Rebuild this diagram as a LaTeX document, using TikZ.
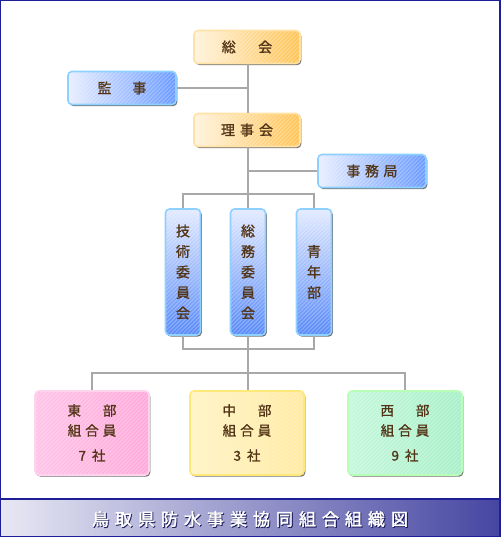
\documentclass[tikz,border=0pt]{standalone}
\usepackage{fontspec}
\newfontfamily\jp[FakeBold=1.2]{Noto Sans CJK JP}
\newfontfamily\jpt[FakeBold=2.2]{Noto Sans CJK JP}
\newfontfamily\jpts[FakeBold=5]{Noto Sans CJK JP}
\usetikzlibrary{shadows}
\definecolor{txt}{HTML}{523416}
\definecolor{conncol}{HTML}{A8A8A8}
\definecolor{oL}{HTML}{FFF3DC}
\definecolor{oR}{HTML}{FFC456}
\definecolor{oB}{HTML}{FFE2A6}
\definecolor{bL}{HTML}{E8EEFF}
\definecolor{bR}{HTML}{6A9AFF}
\definecolor{bB}{HTML}{8ED0FF}
\definecolor{vT}{HTML}{E2EAFF}
\definecolor{vB}{HTML}{588AF8}
\definecolor{pL}{HTML}{FFC4E8}
\definecolor{pR}{HTML}{FFA8DA}
\definecolor{pB}{HTML}{FFD2EE}
\definecolor{yL}{HTML}{FFF4C4}
\definecolor{yR}{HTML}{FFEAA0}
\definecolor{yB}{HTML}{FFE87A}
\definecolor{gL}{HTML}{C4F8DC}
\definecolor{gR}{HTML}{A8F0C8}
\definecolor{gB}{HTML}{B8FFB8}
\definecolor{navy}{HTML}{1E1E96}
\definecolor{bandL}{HTML}{E8E8F4}
\definecolor{bandR}{HTML}{4646A2}
\newcommand{\titletext}{鳥\hspace{6pt}取\hspace{6pt}県\hspace{6pt}防\hspace{6pt}水\hspace{6pt}事\hspace{6pt}業\hspace{6pt}協\hspace{6pt}同\hspace{6pt}組\hspace{6pt}合\hspace{6pt}組\hspace{6pt}織\hspace{6pt}図}
\begin{document}
\begin{tikzpicture}[x=1pt,y=-1pt,
  stripes/.style={path picture={\foreach \i in {-140,-136,...,130}{\draw[white,opacity=0.28,line width=0.9pt] ([xshift=\i pt]path picture bounding box.south west) -- ++(140pt,140pt);}}},
  box/.style={draw, rounded corners=4pt, line width=1.6pt, inner sep=0pt, text=txt,
    font=\jp\fontsize{14}{20.5}\selectfont, align=center, stripes,
    drop shadow={shadow xshift=1.3pt, shadow yshift=-1.6pt, fill=black!65, opacity=0.85}},
  obox/.style={box, draw=oB, left color=oL, right color=oR, minimum width=106pt, minimum height=33pt},
  bbox/.style={box, draw=bB, left color=bL, right color=bR, minimum width=108pt, minimum height=33pt},
  vbox/.style={box, draw=bB, top color=vT, bottom color=vB, minimum width=35pt, minimum height=126pt},
  rbox/.style={box, minimum width=114pt, minimum height=84pt, font=\jp\fontsize{13.5}{20}\selectfont},
  pbox/.style={rbox, draw=pB, left color=pL, right color=pR},
  ybox/.style={rbox, draw=yB, left color=yL, right color=yR},
  gbox/.style={rbox, draw=gB, left color=gL, right color=gR},
  conn/.style={draw=conncol, line width=1.5pt}]
\useasboundingbox (0,0) rectangle (500,537);
\fill[white] (0,0) rectangle (500,537);

% boxes
\node[obox] (sokai) at (247,47) {総\hspace{1.6em}会};
\node[bbox] (kanji) at (122,88) {監\hspace{1.5em}事};
\node[obox] (rijikai) at (247,130) {理\hspace{5pt}事\hspace{5pt}会};
\node[bbox] (jimu) at (372,171) {事\hspace{4.5pt}務\hspace{4.5pt}局};
\node[vbox] (gijutsu) at (183,272) {技\\術\\委\\員\\会};
\node[vbox] (soumu) at (248,272) {総\\務\\委\\員\\会};
\node[vbox] (seinen) at (314,272) {青\\年\\部};
\node[pbox] (tobu) at (92,433) {東\hspace{22pt}部\\組\hspace{4pt}合\hspace{4pt}員\\[5pt]7\hspace{6pt}社};
\node[ybox] (chubu) at (247,433) {中\hspace{22pt}部\\組\hspace{4pt}合\hspace{4pt}員\\[5pt]3\hspace{6pt}社};
\node[gbox] (seibu) at (405,433) {西\hspace{22pt}部\\組\hspace{4pt}合\hspace{4pt}員\\[5pt]9\hspace{6pt}社};

% connectors
\coordinate (upbus) at (248,194);
\coordinate (lowbus) at (248,349);
\coordinate (regbus) at (248,373);
\draw[conn] (sokai.south -| upbus) -- (rijikai.north -| upbus);
\draw[conn] (kanji.east) -- (kanji.east -| upbus);
\draw[conn] (rijikai.south -| upbus) -- (soumu.north);
\draw[conn] (jimu.west) -- (jimu.west -| upbus);
\draw[conn] (gijutsu.north) |- (upbus) -| (seinen.north);
\draw[conn] (gijutsu.south) |- (lowbus) -| (seinen.south);
\draw[conn] (soumu.south) -- (regbus);
\draw[conn] (tobu.north) |- (regbus) -| (seibu.north);
\draw[conn] (regbus) -- (chubu.north -| regbus);

% title band
\shade[left color=bandL, right color=bandR] (0,499) rectangle (500,537);
\draw[navy, line width=1.5pt] (0,499) -- (500,499);
\node[text=navy!55!black, font=\jpts\fontsize{17}{17}\selectfont, opacity=0.75] (titleshadow) at (250.8,519.8) {\titletext};
\node[text=white, font=\jpt\fontsize{17}{17}\selectfont] (title) at (250,519) {\titletext};
% outer frame
\draw[navy, line width=2pt] (0,0) rectangle (500,537);
\end{tikzpicture}
\end{document}
